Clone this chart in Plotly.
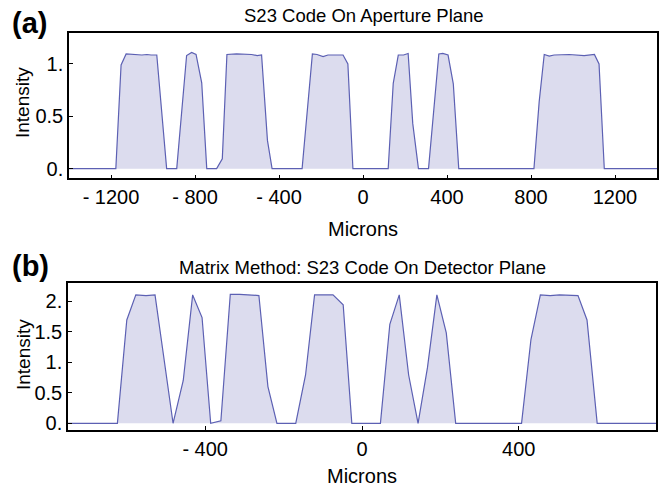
import plotly.graph_objects as go

# ---- data ----
x_aperture = [-1400, -1177, -1152, -1128, -1053, -1029, -1009, -982,
              -935, -887, -840, -816, -795, -768, -744,
              -697, -670, -648, -602, -531, -504, -483, -455, -433,
              -290, -241, -219, -190, -167, -95, -72, -48,
              120, 144, 168, 193, 215, 237, 264,
              312, 361, 380, 405, 430, 456,
              814, 839, 863, 887, 910, 982, 1053, 1102, 1124, 1149, 1400]
y_aperture = [0, 0, 0.99, 1.095, 1.085, 1.09, 1.085, 1.085,
              0, 0, 1.08, 1.11, 1.09, 0.82, 0,
              0, 0.095, 1.09, 1.095, 1.09, 1.08, 1.085, 0.27, 0,
              0, 1.095, 1.09, 1.07, 1.085, 1.085, 1.0, 0,
              0, 0.815, 1.085, 1.085, 1.10, 0.43, 0,
              0, 1.095, 1.10, 1.085, 0.81, 0,
              0, 0.64, 1.09, 1.075, 1.085, 1.09, 1.08, 1.09, 1.0, 0, 0]

x_detector = [-750, -624, -600, -577, -551, -528,
              -482, -456, -432, -408, -386,
              -360, -336, -312, -263, -240, -217,
              -169, -144, -121, -97, -74, -48, -26,
              47, 71, 95, 119, 143,
              167, 191, 215, 239,
              407, 431, 455, 480, 504, 551, 574, 600, 750]
y_detector = [0, 0, 1.69, 2.10, 2.09, 2.10,
              0, 0.70, 2.10, 1.73, 0,
              0.04, 2.11, 2.11, 2.09, 0.60, 0,
              0, 0.79, 2.10, 2.10, 2.10, 1.94, 0,
              0, 1.62, 2.10, 0.79, 0,
              0.91, 2.10, 1.48, 0,
              0, 1.37, 2.10, 2.09, 2.10, 2.09, 1.69, 0, 0]

xtick_vals_a = [-1200, -800, -400, 0, 400, 800, 1200]
xtick_text_a = ["- 1200", "- 800", "- 400", "0", "400", "800", "1200"]
ytick_vals_a = [0, 0.5, 1]
ytick_text_a = ["0.", "0.5", "1."]
xtick_vals_b = [-400, 0, 400]
xtick_text_b = ["- 400", "0", "400"]
ytick_vals_b = [0, 0.5, 1, 1.5, 2]
ytick_text_b = ["0.", "0.5", "1.", "1.5", "2."]

title_a = "S23 Code On Aperture Plane"
title_b = "Matrix Method: S23 Code On Detector Plane"

# ---- style ----
FONT = "Liberation Sans Narrow, Arial Narrow, Liberation Sans, Arial, sans-serif"
LINE = "#5c60b3"
FILL = "#dcdcee"
W, H = 661, 490

fig = go.Figure()
fig.add_trace(go.Scatter(x=x_aperture, y=y_aperture, mode="lines", fill="tozeroy",
                         line=dict(color=LINE, width=1.2), fillcolor=FILL,
                         xaxis="x", yaxis="y", showlegend=False, hoverinfo="skip"))
fig.add_trace(go.Scatter(x=x_detector, y=y_detector, mode="lines", fill="tozeroy",
                         line=dict(color=LINE, width=1.2), fillcolor=FILL,
                         xaxis="x2", yaxis="y2", showlegend=False, hoverinfo="skip"))

def px_x(p):
    return p / W

def px_y(p):
    return 1 - p / H

axis_common = dict(showline=True, linecolor="black", linewidth=1.5, mirror=True,
                   ticks="inside", ticklen=4, tickcolor="black", tickwidth=1,
                   showgrid=False, zeroline=False, automargin=False,
                   tickfont=dict(family=FONT, size=20, color="black"))

fig.update_layout(
    width=W, height=H,
    margin=dict(l=0, r=0, t=0, b=0, autoexpand=False),
    paper_bgcolor="white", plot_bgcolor="white",
    xaxis=dict(domain=[px_x(69), px_x(657)], range=[-1400, 1400], anchor="y",
               tickvals=xtick_vals_a, ticktext=xtick_text_a, **axis_common),
    yaxis=dict(domain=[px_y(178.3), px_y(32.5)], range=[-0.092, 1.30], anchor="x",
               tickvals=ytick_vals_a, ticktext=ytick_text_a, **axis_common),
    xaxis2=dict(domain=[px_x(68), px_x(656)], range=[-750, 750], anchor="y2",
                tickvals=xtick_vals_b, ticktext=xtick_text_b, **axis_common),
    yaxis2=dict(domain=[px_y(430), px_y(282.7)], range=[-0.11, 2.30], anchor="x2",
                tickvals=ytick_vals_b, ticktext=ytick_text_b, **axis_common),
)

def ann(text, x, y, size, bold=False, angle=0, xanchor="center"):
    fig.add_annotation(text=f"<b>{text}</b>" if bold else text,
                       x=px_x(x), y=px_y(y), xref="paper", yref="paper",
                       showarrow=False, xanchor=xanchor, yanchor="middle",
                       textangle=angle, borderpad=0,
                       font=dict(family=FONT if not bold else "Liberation Sans, Arial, sans-serif",
                                 size=size, color="black"))

ann("(a)", 11, 23, 29, bold=True, xanchor="left")
ann("(b)", 11, 266, 29, bold=True, xanchor="left")
ann(title_a, 364, 16, 18.5)
ann(title_b, 362, 267, 18.5)
ann("Microns", 363, 229, 20)
ann("Microns", 362, 476, 20)
ann("Intensity", 23, 103, 19, angle=-90)
ann("Intensity", 23, 355, 19, angle=-90)

fig.write_html("out.html", config={"displayModeBar": False},
               post_script="document.body.style.margin='0';")
